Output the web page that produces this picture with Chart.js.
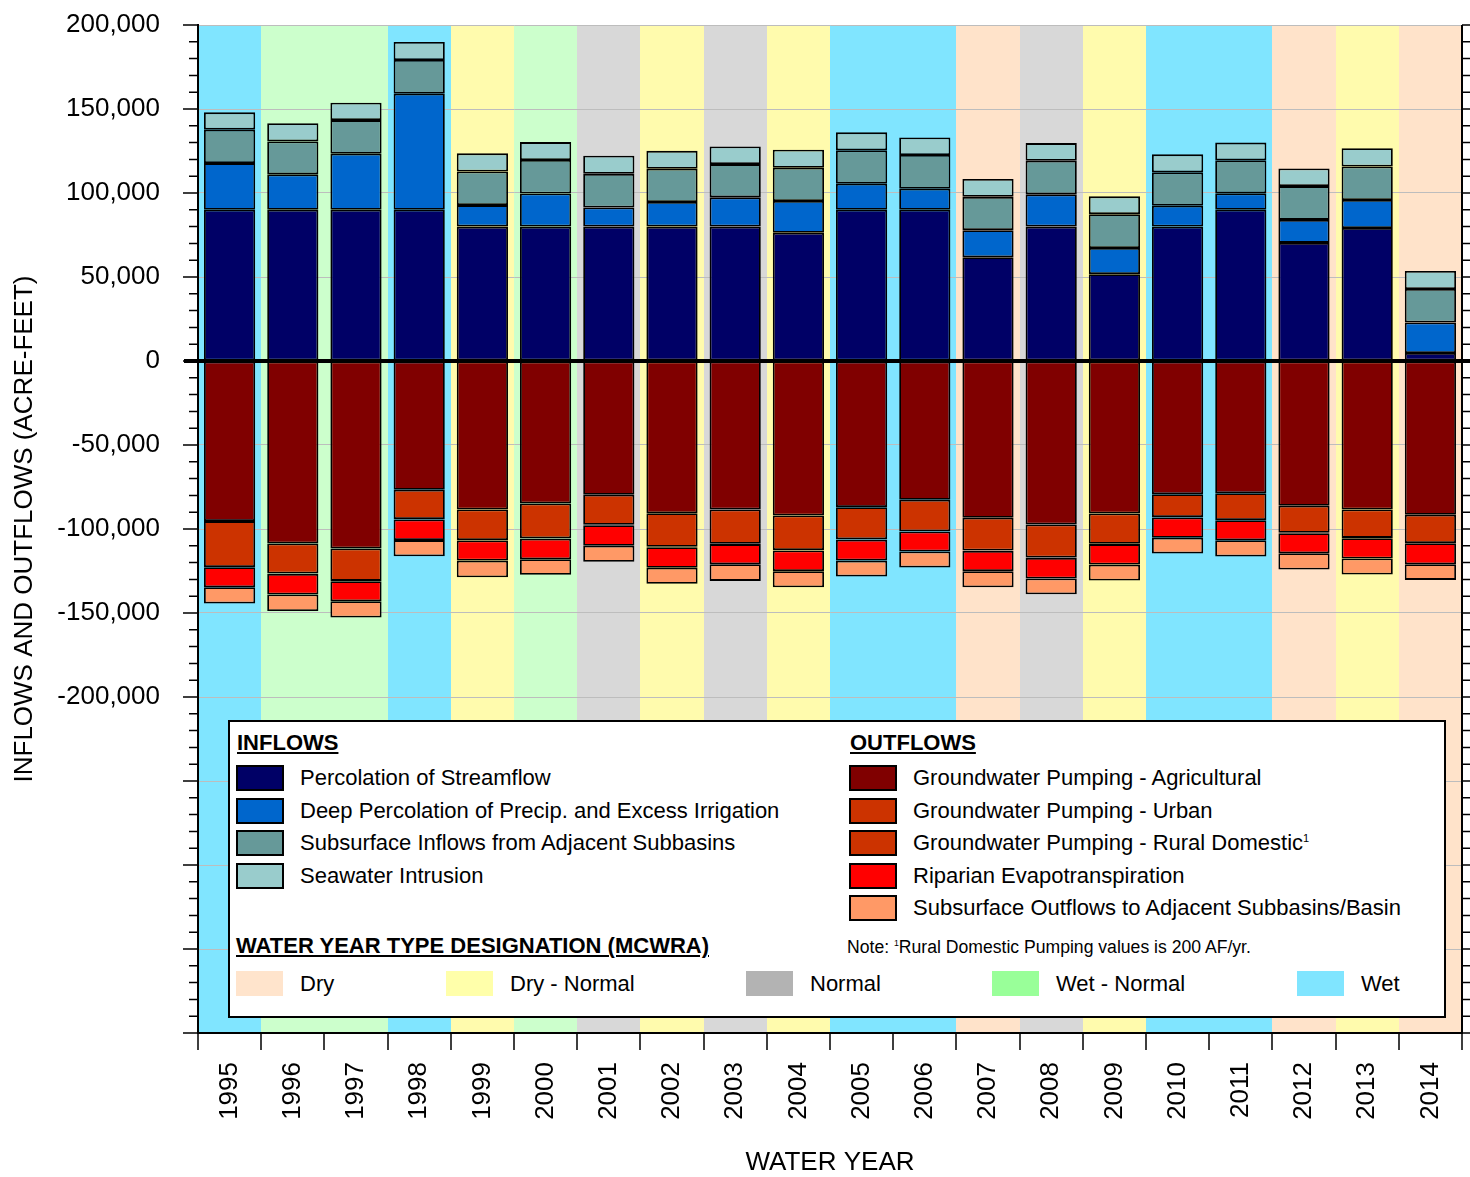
<!DOCTYPE html>
<html>
<head>
<meta charset="utf-8">
<title>Inflows and Outflows by Water Year</title>
<script src="https://cdn.jsdelivr.net/npm/chart.js@4/dist/chart.umd.min.js"></script>
<style>
  html, body { margin: 0; padding: 0; background: #fff; }
  #wrap { position: relative; width: 1470px; height: 1177px; font-family: "Liberation Sans", Arial, sans-serif; }
  #chart { position: absolute; left: 0; top: 0; }
  #key { position: absolute; left: 228px; top: 720px; width: 1214px; height: 294px; border: 2px solid #000; background: #fff; }
  .t { position: absolute; white-space: nowrap; line-height: 1; color: #000; }
  .h { font-weight: bold; text-decoration: underline; text-decoration-thickness: 2px; text-underline-offset: 2px; }
  .sw { position: absolute; box-sizing: border-box; }
  sup { font-size: 0.5em; line-height: 0; vertical-align: 0.75em; }
</style>
</head>
<body>
<div id="wrap">
  <canvas id="chart" width="1470" height="1177"></canvas>
  <div id="key"></div>
</div>
<script>
const FONT = '"Liberation Sans", Arial, sans-serif';

const years = ['1995','1996','1997','1998','1999','2000','2001','2002','2003','2004',
               '2005','2006','2007','2008','2009','2010','2011','2012','2013','2014'];

const waterYearType = ['Wet','Wet - Normal','Wet - Normal','Wet','Dry - Normal','Wet - Normal','Normal',
  'Dry - Normal','Normal','Dry - Normal','Wet','Wet','Dry','Normal','Dry - Normal','Wet','Wet','Dry',
  'Dry - Normal','Dry'];

// Inflows (acre-feet)
const percolationOfStreamflow = [90000,90000,90000,90000,80000,80000,80000,80000,80000,76300,
                                 90000,90000,61800,80000,51700,80000,90000,70300,79200,4800];
const deepPercolation        = [27800,21100,33400,69100,12800,19700,11400,14600,17400,18900,
                                 15500,12500,16100,19200,15600,12400,9800,13700,16600,18100];
const subsurfaceInflows      = [19900,19600,20000,20100,20000,19900,20000,19800,19800,19800,
                                 19900,20100,19800,20000,20100,19900,19700,20100,20000,20000];
const seawaterIntrusion      = [10300,10800,10300,10700,10800,10700,10800,10700,10500,10700,
                                 10700,10500,10700,10500,10600,10700,10500,10500,10800,10700];

// Outflows (acre-feet, negative)
const pumpingAgricultural  = [-95300,-108600,-111600,-76600,-88400,-84800,-79600,-90600,-88400,-92000,
                              -87000,-82600,-93300,-97300,-90800,-79300,-78700,-86200,-88400,-91500];
const pumpingUrban         = [-27300,-17900,-19300,-17500,-18200,-20800,-17900,-20000,-20400,-20600,
                              -19200,-18700,-19500,-19700,-18000,-13600,-15900,-16100,-16900,-16800];
const pumpingRuralDomestic = [-200,-200,-200,-200,-200,-200,-200,-200,-200,-200,
                              -200,-200,-200,-200,-200,-200,-200,-200,-200,-200];
const riparianET           = [-11900,-12300,-11900,-12300,-12000,-12200,-12300,-12300,-12000,-12300,
                              -12400,-11900,-12100,-12300,-12200,-12100,-11900,-11900,-12100,-12500];
const subsurfaceOutflows   = [-9700,-9800,-9700,-9600,-9900,-9300,-9500,-9500,-9900,-9600,
                              -9500,-9500,-9600,-9400,-9500,-9400,-9700,-9700,-9500,-9300];

// Y tick labels are shown only inside this range
const labeledRange = [-200000, 200000];

const inflowSeries = [
  { label: 'Percolation of Streamflow', data: percolationOfStreamflow, color: '#000066' },
  { label: 'Deep Percolation of Precip. and Excess Irrigation', data: deepPercolation, color: '#0066CC' },
  { label: 'Subsurface Inflows from Adjacent Subbasins', data: subsurfaceInflows, color: '#669999' },
  { label: 'Seawater Intrusion', data: seawaterIntrusion, color: '#99CCCC' }
];
const outflowSeries = [
  { label: 'Groundwater Pumping - Agricultural', data: pumpingAgricultural, color: '#800000' },
  { label: 'Groundwater Pumping - Urban', data: pumpingUrban, color: '#CC3300' },
  { label: 'Groundwater Pumping - Rural Domestic', data: pumpingRuralDomestic, color: '#CC3300', note: '1' },
  { label: 'Riparian Evapotranspiration', data: riparianET, color: '#FF0000' },
  { label: 'Subsurface Outflows to Adjacent Subbasins/Basin', data: subsurfaceOutflows, color: '#FF9966' }
];

const yearTypes = ['Dry', 'Dry - Normal', 'Normal', 'Wet - Normal', 'Wet'];
const bandFill  = { 'Dry': '#FFE3CA', 'Dry - Normal': '#FFFBAD', 'Normal': '#D8D8D8', 'Wet - Normal': '#CCFFCC', 'Wet': '#80E5FF' };
const keyFill   = { 'Dry': '#FFE4CC', 'Dry - Normal': '#FFFFAA', 'Normal': '#B3B3B3', 'Wet - Normal': '#99FF99', 'Wet': '#80E5FF' };

const datasets = inflowSeries.concat(outflowSeries).map(s => ({
  label: s.label,
  data: s.data,
  backgroundColor: s.color,
  borderColor: '#000',
  borderWidth: 1.8,
  borderSkipped: false,
  stack: 'flows',
  categoryPercentage: 0.81,
  barPercentage: 1
}));

// Coloured background band behind each water year
const yearTypeBands = {
  id: 'yearTypeBands',
  beforeDraw(chart) {
    const { ctx, chartArea: a, scales: { x } } = chart;
    const half = (x.getPixelForValue(1) - x.getPixelForValue(0)) / 2;
    ctx.save();
    waterYearType.forEach((t, i) => {
      const c = x.getPixelForValue(i);
      const l = Math.round(c - half), r = Math.round(c + half);
      ctx.fillStyle = bandFill[t];
      ctx.fillRect(l, a.top, r - l, a.bottom - a.top);
    });
    ctx.restore();
  }
};

// Tick marks: major/minor on both vertical axes, category boundaries on the x axis,
// plus the right-hand axis line
const axisTicks = {
  id: 'axisTicks',
  afterDraw(chart) {
    const { ctx, chartArea: a, scales: { x, y } } = chart;
    ctx.save();
    ctx.strokeStyle = '#000';
    ctx.lineWidth = 1.5;
    ctx.beginPath();
    y.ticks.forEach(t => {
      const py = y.getPixelForValue(t.value);
      const major = t.value % 50000 === 0;
      ctx.moveTo(a.left - (major ? 15 : 9), py);
      ctx.lineTo(a.left, py);
      ctx.moveTo(a.right, py);
      ctx.lineTo(a.right + 10, py);
    });
    const half = (x.getPixelForValue(1) - x.getPixelForValue(0)) / 2;
    for (let i = 0; i <= years.length; i++) {
      const px = Math.round(x.getPixelForValue(0) - half + i * 2 * half);
      ctx.moveTo(px, a.bottom);
      ctx.lineTo(px, a.bottom + 17);
    }
    ctx.stroke();
    ctx.lineWidth = 2;
    ctx.beginPath();
    ctx.moveTo(a.right, a.top);
    ctx.lineTo(a.right, a.bottom + 1);
    ctx.stroke();
    ctx.restore();
  }
};

// Heavy zero line across the plot
const zeroLine = {
  id: 'zeroLine',
  afterDatasetsDraw(chart) {
    const { ctx, chartArea: a, scales: { y } } = chart;
    const py = y.getPixelForValue(0);
    ctx.save();
    ctx.strokeStyle = '#000';
    ctx.lineWidth = 4;
    ctx.beginPath();
    ctx.moveTo(a.left - 14, py);
    ctx.lineTo(a.right + 10, py);
    ctx.stroke();
    ctx.restore();
  }
};

new Chart(document.getElementById('chart'), {
  type: 'bar',
  data: { labels: years, datasets },
  plugins: [yearTypeBands, axisTicks, zeroLine],
  options: {
    responsive: false,
    animation: false,
    devicePixelRatio: 1,
    layout: { padding: { top: 25, right: 8, left: 0, bottom: 0 } },
    plugins: { legend: { display: false }, tooltip: { enabled: false } },
    scales: {
      x: {
        stacked: true,
        offset: true,
        grid: { offset: true, drawOnChartArea: false, drawTicks: true, tickLength: 29,
                tickColor: 'rgba(0,0,0,0)', color: 'rgba(0,0,0,0)' },
        border: { display: true, color: '#000', width: 2 },
        ticks: { autoSkip: false, maxRotation: 90, minRotation: 90, padding: 0, color: '#000',
                 font: { family: FONT, size: 26 } },
        title: { display: true, text: 'WATER YEAR', color: '#000',
                 font: { family: FONT, size: 26, lineHeight: 1.1 }, padding: { top: 0, bottom: 0 } },
        afterFit(s) { s.height = 144; }
      },
      y: {
        stacked: true,
        min: -400000,
        max: 200000,
        grid: {
          drawTicks: true,
          tickLength: 36,
          tickColor: 'rgba(0,0,0,0)',
          lineWidth: 1,
          color: c => (c.tick && c.tick.value % 50000 === 0) ? '#BDBDBD' : 'rgba(0,0,0,0)'
        },
        border: { display: true, color: '#000', width: 2 },
        ticks: {
          stepSize: 10000,
          autoSkip: false,
          padding: 2,
          color: '#000',
          font: { family: FONT, size: 26 },
          callback: v => (v % 50000 === 0 && v >= labeledRange[0] && v <= labeledRange[1])
            ? v.toLocaleString('en-US') : ''
        },
        title: { display: true, text: 'INFLOWS AND OUTFLOWS (ACRE-FEET)', color: '#000',
                 font: { family: FONT, size: 26, lineHeight: 1.1 }, padding: { top: 11, bottom: 0 } },
        afterFit(s) { s.width = 198; }
      }
    }
  }
});

// ---- Key panel ----
const key = document.getElementById('key');
const OX = 230, OY = 722; // inner origin of the key panel on the page

function addText(x, cy, html, size, cls) {
  const d = document.createElement('div');
  d.className = 't' + (cls ? ' ' + cls : '');
  d.style.left = (x - OX) + 'px';
  d.style.top = (cy - size / 2 - OY) + 'px';
  d.style.fontSize = size + 'px';
  d.innerHTML = html;
  key.appendChild(d);
}
function addSwatch(x, cy, w, h, fill, border) {
  const d = document.createElement('div');
  d.className = 'sw';
  d.style.left = (x - OX) + 'px';
  d.style.top = (cy - h / 2 - OY) + 'px';
  d.style.width = w + 'px';
  d.style.height = h + 'px';
  d.style.background = fill;
  if (border) d.style.border = '2px solid #000';
  key.appendChild(d);
}

addText(237, 743, 'INFLOWS', 22, 'h');
addText(850, 743, 'OUTFLOWS', 22, 'h');
const rowY = [778, 810.5, 843, 875.5, 908];
inflowSeries.forEach((s, i) => {
  addSwatch(236, rowY[i], 48, 26, s.color, true);
  addText(300, rowY[i], s.label, 22);
});
outflowSeries.forEach((s, i) => {
  addSwatch(849, rowY[i], 48, 26, s.color, true);
  addText(913, rowY[i], s.label + (s.note ? '<sup>' + s.note + '</sup>' : ''), 22);
});

addText(236, 946, 'WATER YEAR TYPE DESIGNATION (MCWRA)', 22, 'h');
addText(847, 948, 'Note: <sup>1</sup>Rural Domestic Pumping values is 200 AF/yr.', 17.6);

const typeX = [236, 446, 746, 992, 1297];
yearTypes.forEach((t, i) => {
  addSwatch(typeX[i], 983.5, 47, 25, keyFill[t], false);
  addText(typeX[i] + 64, 983.5, t, 22);
});
</script>
</body>
</html>
